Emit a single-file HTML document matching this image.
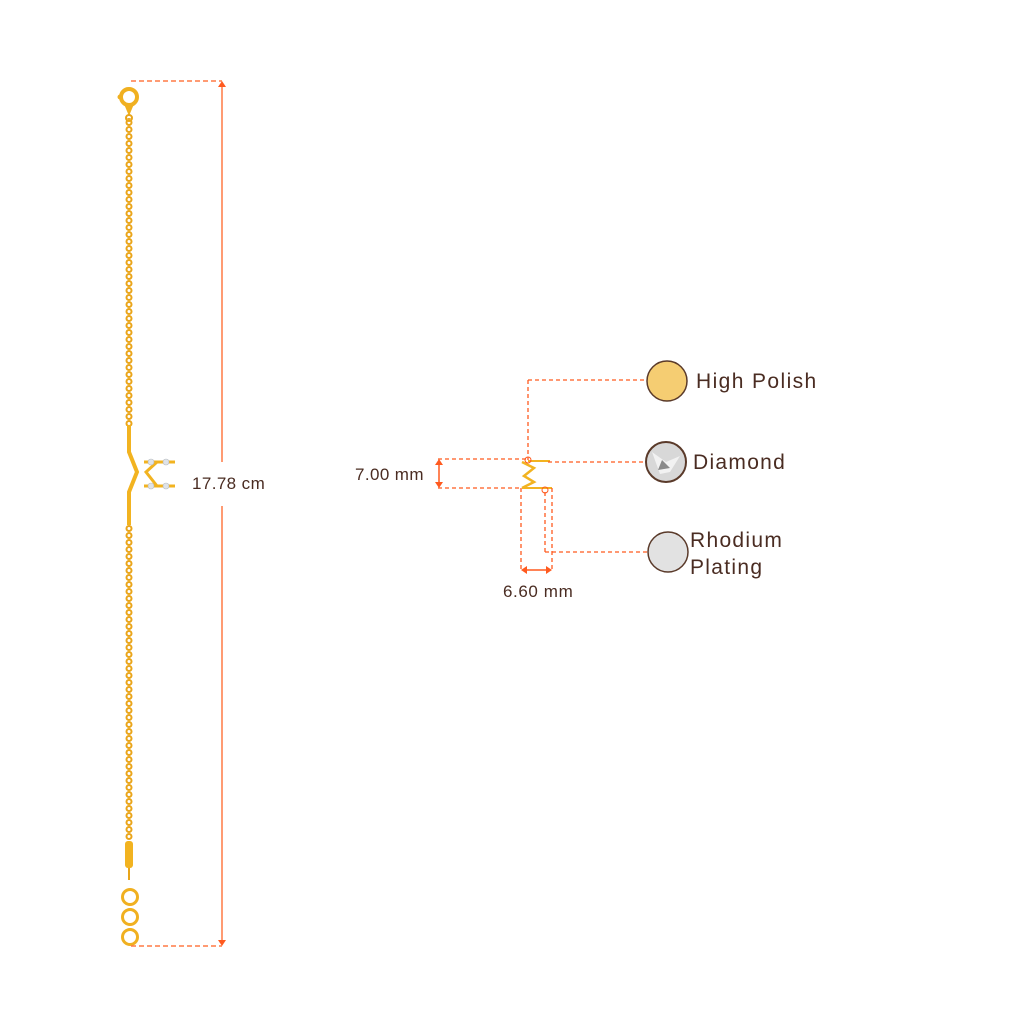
<!DOCTYPE html>
<html><head><meta charset="utf-8"><style>
html,body{margin:0;padding:0;background:#fff;}
svg{display:block;}
text{font-family:"Liberation Sans",sans-serif;fill:#4a2c22;}
</style></head><body>
<svg width="1024" height="1024" viewBox="0 0 1024 1024" xmlns="http://www.w3.org/2000/svg">
<defs>
<pattern id="ch" x="125" y="0" width="8" height="7" patternUnits="userSpaceOnUse">
<circle cx="4" cy="3.5" r="2.5" fill="none" stroke="#eaa51a" stroke-width="2"/>
</pattern>
</defs>
<rect x="125" y="118" width="8" height="308" fill="url(#ch)"/>
<rect x="125" y="525" width="8" height="315" fill="url(#ch)"/>
<circle cx="129" cy="97" r="8" fill="none" stroke="#f0b020" stroke-width="4"/>
<circle cx="120" cy="97" r="2.5" fill="#f0b020"/>
<path d="M124 104 L129 116 L134 104Z" fill="#f0b020"/>
<circle cx="129" cy="118" r="3" fill="none" stroke="#e8a51a" stroke-width="2"/>
<path d="M129 425 L129 452 L137 472 L129 492 L129 525" fill="none" stroke="#f2b320" stroke-width="4"/>
<path d="M144 462 L157 462 L146 472 L157 486 L144 486" fill="none" stroke="#f2b320" stroke-width="3"/>
<line x1="150" y1="462" x2="175" y2="462" stroke="#f2b320" stroke-width="3"/>
<line x1="150" y1="486" x2="175" y2="486" stroke="#f2b320" stroke-width="3"/>
<g fill="#dfe3e8" stroke="#b8bcc0" stroke-width="0.6">
<circle cx="151" cy="462" r="3"/><circle cx="166" cy="462" r="3"/>
<circle cx="151" cy="486" r="3"/><circle cx="166" cy="486" r="3"/>
</g>
<rect x="125" y="841" width="8" height="27" rx="3" fill="#f2b320"/>
<line x1="129" y1="868" x2="129" y2="880" stroke="#e8a51a" stroke-width="2"/>
<g fill="none" stroke="#f0b020" stroke-width="3">
<circle cx="130" cy="897" r="7.5"/><circle cx="130" cy="917" r="7.5"/><circle cx="130" cy="937" r="7.5"/>
</g>
<g stroke="#ff7a45" stroke-width="1.5" fill="none">
<line x1="131" y1="81" x2="222" y2="81" stroke-dasharray="5,3"/>
<line x1="131" y1="946" x2="222" y2="946" stroke-dasharray="5,3"/>
<line x1="222" y1="84" x2="222" y2="462"/>
<line x1="222" y1="506" x2="222" y2="943"/>
</g>
<path d="M218 87 L222 81 L226 87Z" fill="#ff5a1f"/>
<path d="M218 940 L222 946 L226 940Z" fill="#ff5a1f"/>
<text x="192" y="489" font-size="17" letter-spacing="0.4">17.78 cm</text>
<path d="M522 462 L534 468 L524 476 L534 482 L522 488" fill="none" stroke="#f2b320" stroke-width="2.5"/>
<line x1="528" y1="461" x2="550" y2="461" stroke="#f2b320" stroke-width="2"/>
<line x1="522" y1="488" x2="552" y2="488" stroke="#f2b320" stroke-width="2"/>
<g stroke="#ff5a1f" stroke-width="1.3" fill="none" stroke-dasharray="4,3">
<line x1="528" y1="380" x2="647" y2="380"/>
<line x1="528" y1="380" x2="528" y2="460"/>
<line x1="548" y1="462" x2="645" y2="462"/>
<line x1="438" y1="459" x2="528" y2="459"/>
<line x1="438" y1="488" x2="522" y2="488"/>
<line x1="521" y1="488" x2="521" y2="570"/>
<line x1="552" y1="488" x2="552" y2="570"/>
<line x1="545" y1="492" x2="545" y2="552"/>
<line x1="545" y1="552" x2="647" y2="552"/>
</g>
<circle cx="528" cy="460" r="3" fill="none" stroke="#ff5a1f" stroke-width="1"/>
<circle cx="545" cy="490" r="3" fill="none" stroke="#ff5a1f" stroke-width="1"/>
<g stroke="#ff5a1f" stroke-width="1.5">
<line x1="439" y1="462" x2="439" y2="485"/>
<line x1="524" y1="570" x2="549" y2="570"/>
</g>
<path d="M435 465 L439 459 L443 465Z M435 482 L439 488 L443 482Z" fill="#ff5a1f"/>
<path d="M527 566 L521 570 L527 574Z M546 566 L552 570 L546 574Z" fill="#ff5a1f"/>
<text x="355" y="480" font-size="17" letter-spacing="0.4">7.00 mm</text>
<text x="503" y="597" font-size="17" letter-spacing="0.6">6.60 mm</text>
<circle cx="667" cy="381" r="20" fill="#f5cd72" stroke="#5a3a2a" stroke-width="1.5"/>
<circle cx="666" cy="462" r="20" fill="#d8d8d8" stroke="#5a3a2a" stroke-width="2"/>
<path d="M652 452 L666 462 L680 456 L670 472 L660 474Z" fill="#f2f2f2"/>
<path d="M662 460 L670 468 L658 470Z" fill="#8a8a8a"/>
<circle cx="668" cy="552" r="20" fill="#e2e2e2" stroke="#5a3a2a" stroke-width="1.5"/>
<text x="696" y="388" font-size="21" letter-spacing="1.4">High Polish</text>
<text x="693" y="469" font-size="21" letter-spacing="1.3">Diamond</text>
<text x="690" y="547" font-size="21" letter-spacing="1.3">Rhodium</text>
<text x="690" y="574" font-size="21" letter-spacing="1.3">Plating</text>
</svg>
</body></html>
